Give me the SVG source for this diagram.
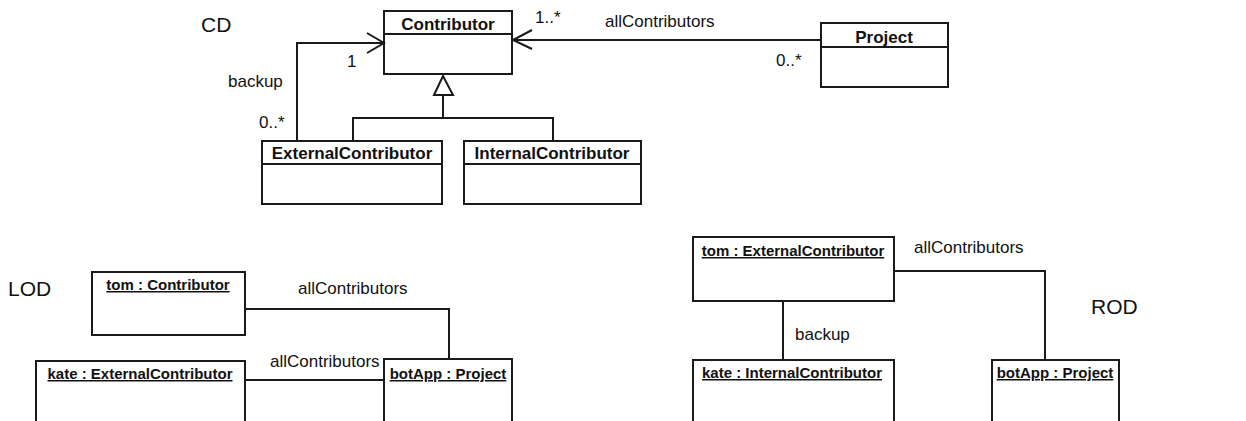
<svg xmlns="http://www.w3.org/2000/svg" width="1246" height="421" viewBox="0 0 1246 421">
  <style>
    .box { fill: #fff; stroke: #1a1a1a; stroke-width: 2; }
    .div { stroke: #1a1a1a; stroke-width: 2; }
    .cls { font-family: "Liberation Sans", Arial, sans-serif; font-weight: bold; font-size: 17px; fill: #111; text-anchor: middle; }
    .obj { font-family: "Liberation Sans", Arial, sans-serif; font-weight: bold; font-size: 15px; fill: #111; text-anchor: middle; text-decoration: underline; }
    .lbl { font-family: "Liberation Sans", Arial, sans-serif; font-size: 17px; fill: #111; }
    .title { font-family: "Liberation Sans", Arial, sans-serif; font-size: 21px; fill: #111; }
    .edge { fill: none; stroke: #1a1a1a; stroke-width: 2; }
  </style>

  <!-- section titles -->
  <text class="title" x="201" y="32">CD</text>
  <text class="title" x="8" y="296">LOD</text>
  <text class="title" x="1091" y="314">ROD</text>

  <!-- class diagram -->
  <g id="contributor">
    <rect class="box" x="384" y="11" width="128" height="63"/>
    <line class="div" x1="384" y1="34" x2="512" y2="34"/>
    <text class="cls" x="448" y="30">Contributor</text>
  </g>
  <g id="project">
    <rect class="box" x="821" y="23" width="127" height="64"/>
    <line class="div" x1="821" y1="47" x2="948" y2="47"/>
    <text class="cls" x="884" y="43">Project</text>
  </g>
  <g id="externalContributor">
    <rect class="box" x="262" y="141" width="180" height="63"/>
    <line class="div" x1="262" y1="164" x2="442" y2="164"/>
    <text class="cls" x="352" y="159">ExternalContributor</text>
  </g>
  <g id="internalContributor">
    <rect class="box" x="464" y="141" width="177" height="63"/>
    <line class="div" x1="464" y1="164" x2="641" y2="164"/>
    <text class="cls" x="552" y="159">InternalContributor</text>
  </g>

  <g id="cd-connectors">
    <!-- backup: ExternalContributor -> Contributor -->
    <polyline class="edge" points="297,141 297,43 384,43"/>
    <polyline class="edge" points="367,33 384,43 367,53"/>
    <!-- allContributors: Project -> Contributor -->
    <line class="edge" x1="821" y1="40" x2="513" y2="40"/>
    <polyline class="edge" points="532,30 513,40 532,49"/>
    <!-- generalization -->
    <polygon class="box" points="443,76 434,95 453,95"/>
    <line class="edge" x1="443" y1="95" x2="443" y2="118"/>
    <polyline class="edge" points="353,141 353,118 553,118 553,141"/>
  </g>
  <g id="cd-labels">
    <text class="lbl" x="347" y="67">1</text>
    <text class="lbl" x="228" y="87">backup</text>
    <text class="lbl" x="259" y="128">0..*</text>
    <text class="lbl" x="535" y="23">1..*</text>
    <text class="lbl" x="605" y="27">allContributors</text>
    <text class="lbl" x="776" y="66">0..*</text>
  </g>

  <!-- left object diagram -->
  <g id="lod-tom">
    <rect class="box" x="92" y="272" width="153" height="63"/>
    <text class="obj" x="168" y="290">tom : Contributor</text>
  </g>
  <g id="lod-kate">
    <rect class="box" x="36" y="361" width="209" height="80"/>
    <text class="obj" x="140" y="379">kate : ExternalContributor</text>
  </g>
  <g id="lod-botApp">
    <rect class="box" x="384" y="359" width="128" height="82"/>
    <text class="obj" x="448" y="379">botApp : Project</text>
  </g>
  <g id="lod-connectors">
    <polyline class="edge" points="245,309 449,309 449,359"/>
    <line class="edge" x1="245" y1="380" x2="384" y2="380"/>
    <text class="lbl" x="298" y="294">allContributors</text>
    <text class="lbl" x="270" y="367">allContributors</text>
  </g>

  <!-- right object diagram -->
  <g id="rod-tom">
    <rect class="box" x="693" y="237" width="201" height="64"/>
    <text class="obj" x="793" y="256">tom : ExternalContributor</text>
  </g>
  <g id="rod-kate">
    <rect class="box" x="693" y="360" width="201" height="81"/>
    <text class="obj" x="792" y="378">kate : InternalContributor</text>
  </g>
  <g id="rod-botApp">
    <rect class="box" x="992" y="360" width="127" height="81"/>
    <text class="obj" x="1055" y="378">botApp : Project</text>
  </g>
  <g id="rod-connectors">
    <polyline class="edge" points="894,271 1045,271 1045,360"/>
    <line class="edge" x1="783" y1="301" x2="783" y2="360"/>
    <text class="lbl" x="914" y="253">allContributors</text>
    <text class="lbl" x="795" y="340">backup</text>
  </g>
</svg>
